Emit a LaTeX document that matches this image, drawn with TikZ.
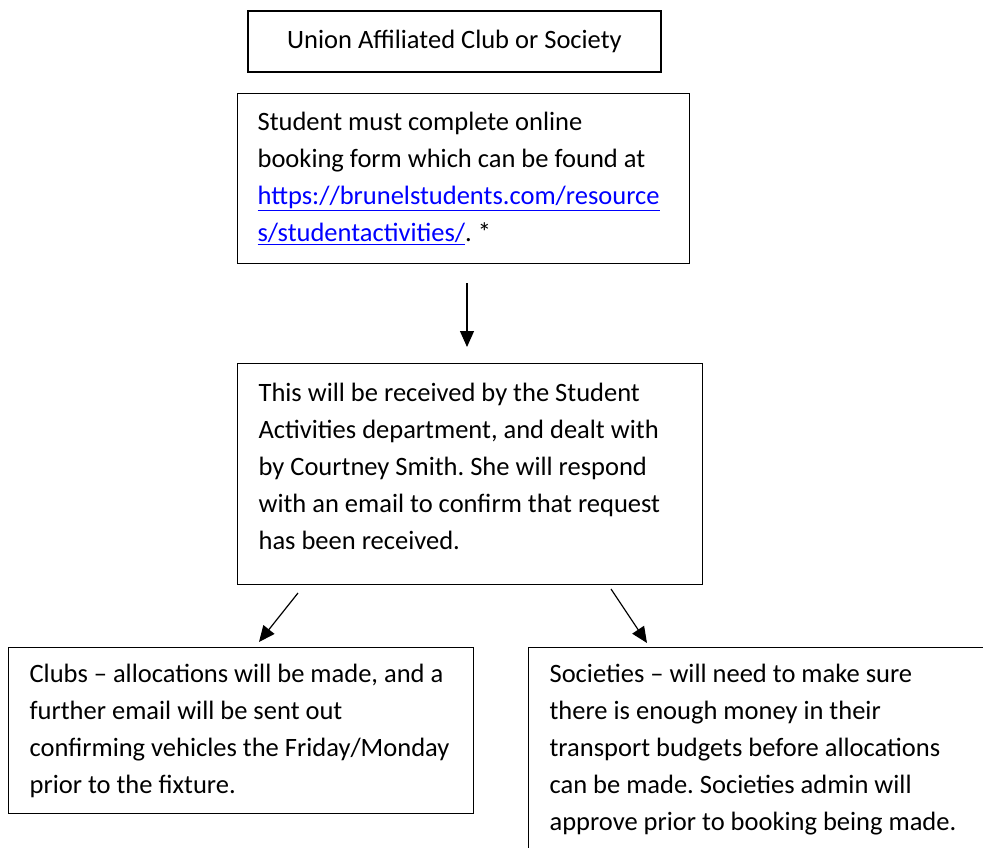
\documentclass[tikz,border=0pt]{standalone}
\usepackage{fontspec}
\setmainfont{Carlito}
\usepackage{tikz}
\usetikzlibrary{arrows.meta}
\hyphenpenalty=10000
\frenchspacing
\newcommand{\weblink}[1]{\textcolor{blue}{\underline{#1}}}
\newcommand{\boxfont}{\fontsize{26.5}{37}\selectfont}

\begin{document}
\begin{tikzpicture}[x=1pt,y=-1pt,
		box/.style={draw, line width=1.2pt, anchor=north west, align=flush left, inner xsep=21pt, font=\boxfont},
		arr/.style={line width=1.2pt, -{Triangle[length=16pt,width=14pt]}}]
			%\draw[help lines,step=50] (0,0) grid (983,848);
			\useasboundingbox (0,0) rectangle (983,848);
			\clip (0,0) rectangle (983,848);
			
			\node[box, anchor=center, minimum width=413pt, minimum height=61pt] (union) at (454.5,41.5) {Union Affiliated Club or Society};
			
			\node[box, inner xsep=20pt, text width=412pt, minimum height=170pt] (form) at (237,93) {Student must complete online\\ booking form which can be found at\\ \weblink{https://brunelstudents.com/resource}\\ \weblink{s/studentactivities/}. *};
			
			\node[box, text width=423pt, minimum height=221pt] (act) at (237,363) {This will be received by the Student\\ Activities department, and dealt with\\ by Courtney Smith. She will respond\\ with an email to confirm that request\\ has been received.\rule[-16pt]{0pt}{16pt}};
			
			\node[box, text width=423pt, minimum height=166pt] (clubs) at (8,647) {Clubs – allocations will be made, and a\\ further email will be sent out\\ confirming vehicles the Friday/Monday\\ prior to the fixture.};
			
			\node[box, text width=423pt, minimum height=221pt] (socs) at (528,647) {Societies – will need to make sure\\ there is enough money in their\\ transport budgets before allocations\\ can be made. Societies admin will\\ approve prior to booking being made.\rule[-22pt]{0pt}{22pt}};
			
			\coordinate (down1) at (467,283);
			\coordinate (down2) at (467,347);
			\coordinate (left1) at (298,593);
			\coordinate (left2) at (259,642);
			\coordinate (right1) at (611,589);
			\coordinate (right2) at (647,643);
			
			\draw[arr] (down1) -- (down2);
			\draw[arr] (left1) -- (left2);
			\draw[arr] (right1) -- (right2);
		\end{tikzpicture}
\end{document}
